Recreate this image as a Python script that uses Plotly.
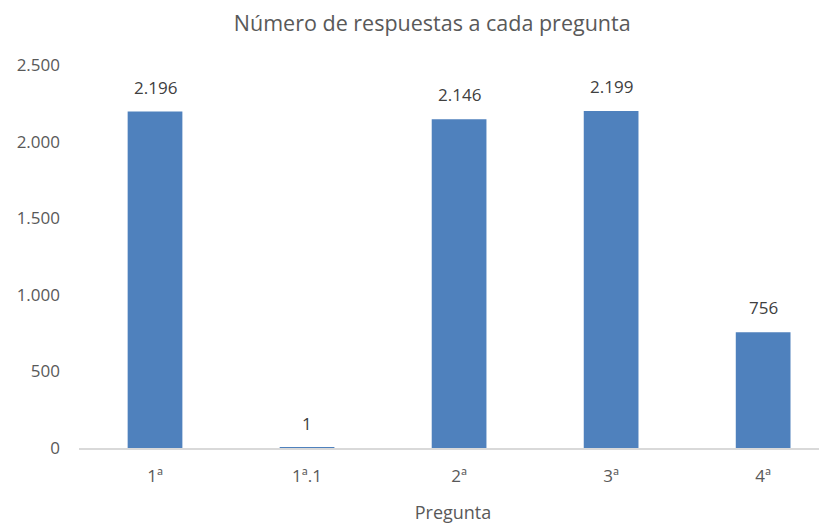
"""Número de respuestas a cada pregunta — bar chart."""
import plotly.graph_objects as go

preguntas  = ['1ª', '1ª.1', '2ª', '3ª', '4ª']
respuestas = [2196, 1, 2146, 2199, 756]
y_ticks    = [0, 500, 1000, 1500, 2000, 2500]

BAR   = '#4F81BD'
TEXT  = '#595959'
FONT  = 'Open Sans'


def fmt(v):
    return f"{v:,}".replace(',', '.')


fig = go.Figure(go.Bar(
    x=preguntas, y=respuestas, width=0.36,
    marker=dict(color=BAR, line=dict(width=0)),
    hoverinfo='x+y',
))

for p, v in zip(preguntas, respuestas):
    fig.add_annotation(x=p, y=v, text=fmt(v), showarrow=False,
                       yanchor='bottom', yshift=11,
                       font=dict(family=FONT, size=17, color='#404040'))

# page body adds an 8px offset, so the figure is sized/margined 8px less
fig.update_layout(
    width=819, height=521,
    margin=dict(l=71, r=0, t=57, b=81),
    paper_bgcolor='white', plot_bgcolor='white',
    separators=',.',
    showlegend=False,
    title=dict(text='Número de respuestas a cada pregunta', x=0.518, xanchor='center',
               y=0.970, yanchor='middle',
               font=dict(family=FONT, size=21.5, color=TEXT)),
    font=dict(family=FONT, color=TEXT),
)
fig.update_xaxes(
    range=[-0.5, 4.42], showgrid=False, showline=True, linecolor='#D9D9D9', linewidth=2,
    layer='above traces',
    ticks='', ticklabelstandoff=12, tickfont=dict(size=17, color=TEXT),
    title=dict(text='Pregunta', font=dict(size=18, color=TEXT), standoff=20),
)
fig.update_yaxes(
    range=[0, 2500], tickvals=y_ticks, ticktext=[fmt(t) for t in y_ticks],
    showgrid=False, zeroline=False, showline=False, ticks='',
    ticklabelstandoff=18, tickfont=dict(size=17, color=TEXT),
)

fig.write_html('out.html')
